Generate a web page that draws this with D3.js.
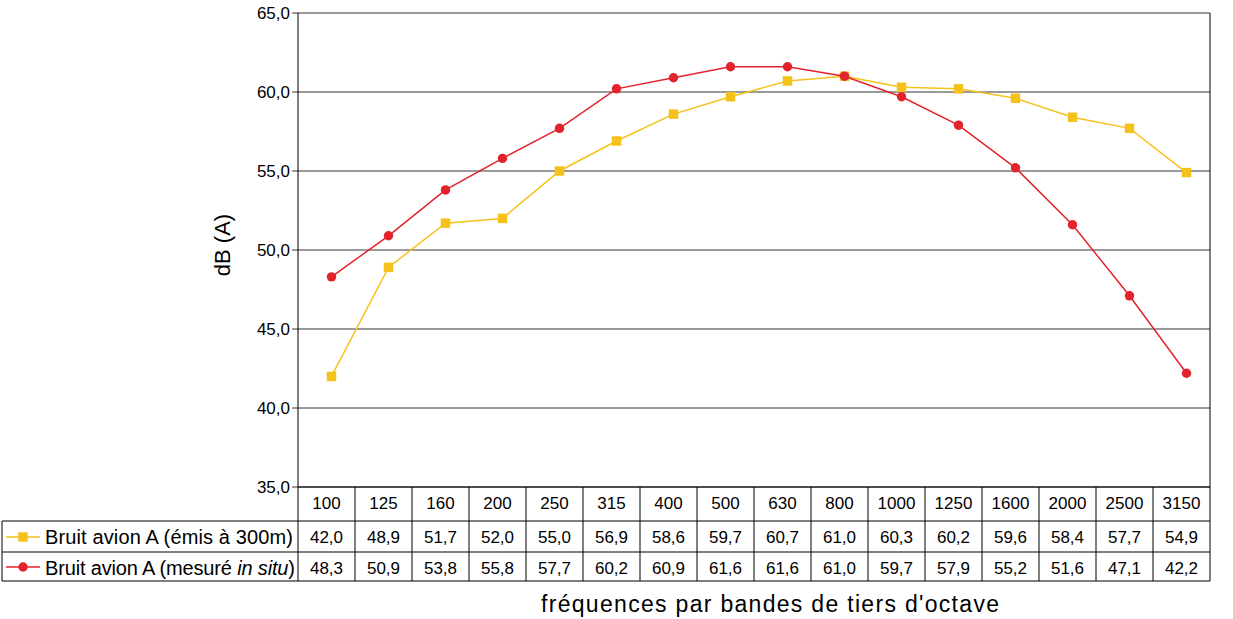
<!DOCTYPE html>
<html><head><meta charset="utf-8">
<script src="https://cdn.jsdelivr.net/npm/d3@7"></script>
<style>body{margin:0;background:#fff;font-family:"Liberation Sans",Arial,sans-serif}</style>
</head><body><svg id="c" width="1233" height="619"></svg>
<script>
var freqs = ["100","125","160","200","250","315","400","500","630","800","1000","1250","1600","2000","2500","3150"];
var emis = [42.0,48.9,51.7,52.0,55.0,56.9,58.6,59.7,60.7,61.0,60.3,60.2,59.6,58.4,57.7,54.9];
var mesure = [48.3,50.9,53.8,55.8,57.7,60.2,60.9,61.6,61.6,61.0,59.7,57.9,55.2,51.6,47.1,42.2];
var yTicks = [35,40,45,50,55,60,65];

var svg = d3.select("#c");
var L = 298, R = 1210, T = 13, B = 487;
var x = d3.scaleBand().domain(freqs).range([L, R]);
var y = d3.scaleLinear().domain([35, 65]).range([B, T]);
var fmt = function(v){ return v.toFixed(1).replace(".", ","); };
var cx = function(i){ return x(freqs[i]) + x.bandwidth()/2 + 5; };

// grid
svg.selectAll(".grid").data(yTicks).enter().append("line")
  .attr("x1", L - 6).attr("x2", R).attr("y1", y).attr("y2", y)
  .attr("stroke", "#000").attr("stroke-width", 0.8);
svg.selectAll(".yl").data(yTicks).enter().append("text")
  .attr("x", L - 8).attr("y", function(d){ return y(d) + 6; })
  .attr("text-anchor", "end").attr("font-size", 17).text(fmt);
svg.append("line").attr("x1", L).attr("x2", L).attr("y1", T).attr("y2", 581).attr("stroke", "#000");
svg.append("line").attr("x1", R).attr("x2", R).attr("y1", T).attr("y2", 581).attr("stroke", "#000");
svg.append("text").attr("transform", "translate(230,245) rotate(-90)")
  .attr("text-anchor", "middle").attr("font-size", 22).text("dB (A)");

// table
var rows = [487, 521, 552, 581];
rows.forEach(function(r, i){
  svg.append("line").attr("x1", i === 0 ? L : 2).attr("x2", R).attr("y1", r).attr("y2", r).attr("stroke", "#000");
});
svg.append("line").attr("x1", 2).attr("x2", 2).attr("y1", 521).attr("y2", 581).attr("stroke", "#000");
svg.selectAll(".vc").data(freqs.slice(1)).enter().append("line")
  .attr("x1", function(d){ return x(d); }).attr("x2", function(d){ return x(d); })
  .attr("y1", B).attr("y2", 581).attr("stroke", "#000");
svg.selectAll(".fh").data(freqs).enter().append("text")
  .attr("x", function(d){ return x(d) + x.bandwidth()/2; }).attr("y", 509)
  .attr("text-anchor", "middle").attr("font-size", 17).text(function(d){ return d; });
[[emis, 543], [mesure, 574]].forEach(function(p){
  svg.selectAll(null).data(p[0]).enter().append("text")
    .attr("x", function(d, i){ return x(freqs[i]) + x.bandwidth()/2; }).attr("y", p[1])
    .attr("text-anchor", "middle").attr("font-size", 17).text(fmt);
});

var series = [
  {vals: emis, color: "#f5c21b", shape: d3.symbolSquare, size: 90, ly: 537},
  {vals: mesure, color: "#e3232b", shape: d3.symbolCircle, size: 70, ly: 567}
];
var line = d3.line().x(function(d, i){ return cx(i); }).y(function(d){ return y(d); });
series.forEach(function(s){
  svg.append("path").datum(s.vals).attr("d", line).attr("fill", "none").attr("stroke", s.color).attr("stroke-width", 1.5);
  svg.selectAll(null).data(s.vals).enter().append("path")
    .attr("d", d3.symbol().type(s.shape).size(s.size))
    .attr("transform", function(d, i){ return "translate(" + cx(i) + "," + y(d) + ")"; })
    .attr("fill", s.color);
  svg.append("line").attr("x1", 6).attr("x2", 40).attr("y1", s.ly).attr("y2", s.ly).attr("stroke", s.color).attr("stroke-width", 1.5);
  svg.append("path").attr("d", d3.symbol().type(s.shape).size(s.size))
    .attr("transform", "translate(23," + s.ly + ")").attr("fill", s.color);
});
svg.append("text").attr("x", 45).attr("y", 544).attr("font-size", 20)
  .attr("textLength", 248).text("Bruit avion A (émis à 300m)");
var t2 = svg.append("text").attr("x", 45).attr("y", 575).attr("font-size", 20).attr("textLength", 250);
t2.append("tspan").text("Bruit avion A (mesuré ");
t2.append("tspan").attr("font-style", "italic").text("in situ");
t2.append("tspan").text(")");

svg.append("text").attr("x", 770).attr("y", 612).attr("text-anchor", "middle").attr("font-size", 23)
  .attr("textLength", 458).text("fréquences par bandes de tiers d'octave");
</script></body></html>
